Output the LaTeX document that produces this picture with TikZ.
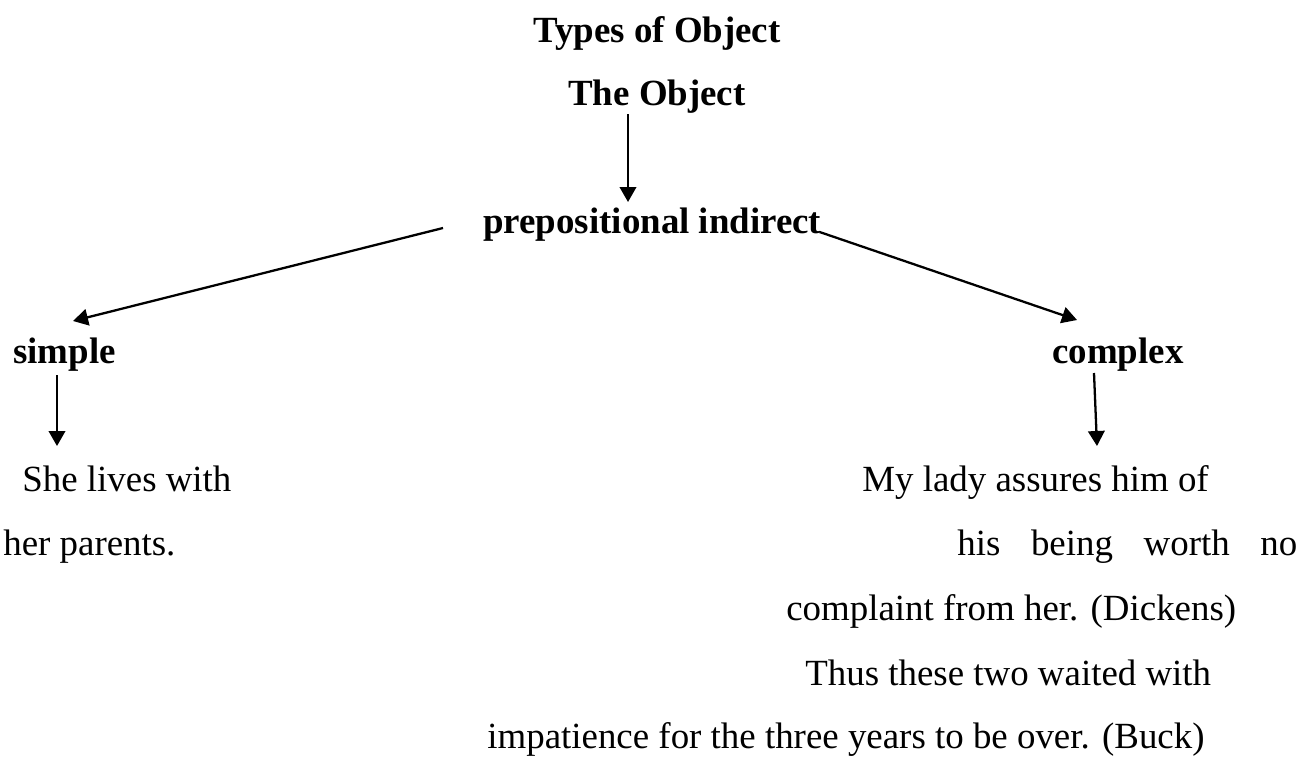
\documentclass[tikz,border=0pt]{standalone}
\usepackage{fontspec}
\setmainfont{Liberation Serif}
\usetikzlibrary{arrows.meta}

\begin{document}
\begin{tikzpicture}[x=0.02cm,y=-0.02cm,
    font=\fontsize{21}{25}\selectfont,
    every node/.style={inner sep=0pt},
    head/.style={font=\fontsize{21}{25}\selectfont\bfseries},
    arr/.style={line width=1.3pt,-{Triangle[length=0.3cm,width=0.33cm]}}]
      \useasboundingbox (0,0) rectangle (1316,758);
      \node[head,anchor=base] (title) at (657,42) {Types of Object};
      \node[head,anchor=base] (obj) at (657,105) {The Object};
      \node[head,anchor=base west] (prep) at (483,233) {prepositional indirect};
      \node[head,anchor=base west] (simple) at (13,363) {simple};
      \node[head,anchor=base west] (complex) at (1052,363) {complex};
      \node[anchor=base west] (simA) at (22,491) {She lives with};
      \node[anchor=base west] (simB) at (3,555) {her parents.};
      \node[anchor=base west] (comA) at (862,491) {My lady assures him of};
      \node[anchor=base west] (comB) at (957,555) {\makebox[6.8cm][s]{his being worth no}};
      \node[anchor=base west] (comC) at (786,620) {complaint from her. (Dickens)};
      \node[anchor=base west] (comD) at (805,685) {Thus these two waited with};
      \node[anchor=base west] (comE) at (487,748) {impatience for the three years to be over. (Buck)};
      \draw[arr] ([shift={(-29,9)}]obj.base) -- ([shift={(-29,-31)}]obj.base |- prep.base);
      \draw[arr] ([shift={(-40,-5)}]prep.base west) -- ([shift={(60,-42)}]simple.base west);
      \draw[arr] ([shift={(-2,-1)}]prep.base east) -- ([shift={(25,-43)}]complex.base west);
      \draw[arr] ([shift={(44,12)}]simple.base west) -- ([shift={(35,-45)}]simA.base west);
      \draw[arr] ([shift={(42,10)}]complex.base west) -- ([shift={(235,-45)}]comA.base west);
    \end{tikzpicture}
\end{document}
